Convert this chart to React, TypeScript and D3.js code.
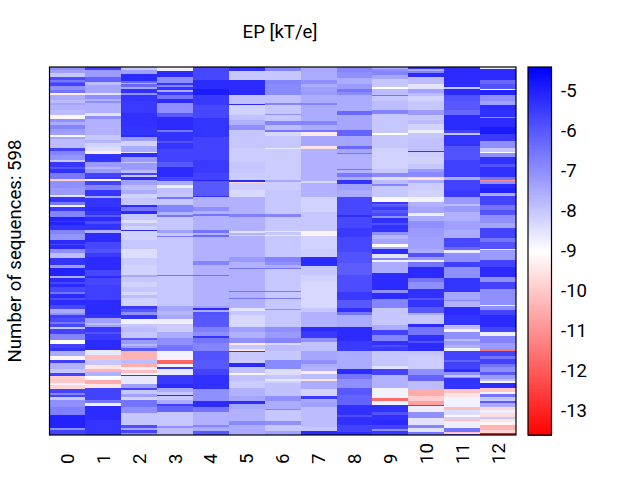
import React from 'react';
import * as d3 from 'd3';

// each column: runs of [last row (exclusive), EP value] top to bottom
const col0 = [[5,-7],[10,-7.3],[16,-8],[21,-5.8],[24,-6.6],[26,-6],[31,-5.6],[37,-7],[42,-6.5],[46,-9.3],[54,-7.5],[58,-7.8],[62,-7.4],[70,-7.6],[78,-7.8],[85,-9.2],[90,-7],[94,-7.5],[100,-6.8],[105,-7.2],[110,-7.3],[113,-8.9],[117,-7.4],[121,-7.8],[132,-7.8],[136,-5.6],[143,-6.8],[151,-7.1],[155,-8],[162,-5.4],[165,-5.9],[173,-5.3],[182,-6.6],[185,-9.8],[197,-7],[208,-7.2],[212,-8.5],[219,-5.35],[225,-6.6],[227,-8.8],[234,-5.45],[243,-6.8],[250,-5.05],[252,-5.5],[256,-5.05],[265,-5.35],[272,-6.8],[281,-7.1],[287,-5.2],[290,-5.7],[295,-5.2],[303,-7],[310,-7.8],[322,-5.35],[327,-7.2],[339,-5.05],[343,-7.5],[350,-5.2],[353,-5.7],[357,-5.2],[365,-5.7],[369,-6.5],[375,-5.2],[378,-5.8],[387,-5.2],[393,-5.7],[399,-7.5],[403,-7],[408,-5.55],[414,-5.8],[418,-6.5],[422,-5.7],[426,-8],[434,-5.6],[444,-6.8],[450,-9],[456,-5.6],[461,-5.35],[470,-7.5],[476,-9.2],[481,-5.55],[490,-7.6],[498,-8],[502,-5.6],[507,-9.9],[513,-10],[516,-8.8],[523,-9.8],[530,-5.6],[533,-6.8],[537,-5.6],[541,-8],[552,-7],[566,-6.7],[586,-5.05],[590,-7],[598,-5.6]];
const col1 = [[5,-5.6],[16,-7.2],[25,-6.2],[29,-7.8],[43,-7.4],[46,-8.5],[52,-7],[56,-7.6],[59,-7],[75,-7.6],[80,-8.5],[85,-7],[110,-7.6],[118,-8],[124,-7.7],[130,-8.2],[136,-8.4],[141,-9.3],[155,-5.35],[162,-7.2],[166,-7.7],[173,-7.2],[178,-5.6],[182,-5.45],[185,-8.9],[192,-5.6],[200,-6.8],[209,-5.35],[213,-7.4],[227,-5.35],[234,-5.2],[240,-5.35],[243,-6],[250,-5.2],[255,-5.8],[265,-5.35],[270,-7.6],[284,-5.2],[295,-5.7],[303,-5.9],[308,-5.45],[330,-5.2],[340,-5.7],[343,-5.2],[354,-5.7],[379,-5.55],[403,-5.2],[408,-5.35],[416,-7.3],[419,-7.8],[422,-7.3],[430,-5.45],[434,-5.9],[444,-5.45],[460,-5.2],[468,-8.6],[476,-10.2],[484,-8],[491,-9.5],[495,-10.4],[502,-7.6],[509,-9],[515,-10.5],[522,-9.5],[541,-5.6],[546,-6.5],[551,-8.7],[574,-5.2],[598,-5.35]];
const col2 = [[5,-8],[11,-7.3],[22,-5.2],[26,-6.3],[28,-7.6],[32,-6.3],[35,-7.4],[43,-5.3],[46,-7],[56,-5.35],[75,-5.45],[97,-5.3],[110,-5.35],[114,-5.2],[121,-7.2],[129,-8.2],[138,-7.5],[140,-8.5],[146,-5.2],[154,-7.2],[156,-8],[167,-7.2],[172,-7.8],[176,-5.6],[178,-8],[184,-5.2],[192,-7.3],[200,-7.8],[206,-7.5],[213,-8.2],[225,-8],[228,-5.2],[234,-6.5],[239,-5.2],[249,-8],[254,-8.4],[259,-7.9],[265,-8.2],[267,-5.2],[281,-8.2],[295,-8],[310,-8.4],[322,-8.1],[338,-8.2],[342,-7.4],[349,-8],[357,-8.2],[366,-8],[370,-8.3],[376,-7.8],[388,-8.2],[394,-5.45],[398,-6],[403,-7],[409,-5.35],[417,-8.8],[422,-8],[430,-7.8],[441,-8],[444,-6],[450,-7.2],[453,-7.7],[457,-7.2],[461,-6],[476,-10.4],[481,-7.8],[487,-10.5],[493,-8.7],[498,-10.2],[501,-8.8],[502,-5.35],[515,-8.6],[522,-7.3],[525,-5.6],[532,-8],[536,-7.3],[541,-8.2],[552,-6.5],[562,-7],[582,-8],[587,-5.8],[590,-7.4],[594,-5.6],[598,-7]];
const col3 = [[6,-8.7],[17,-5.2],[26,-7],[30,-5.35],[32,-6.8],[37,-5.35],[40,-7.5],[46,-5.45],[52,-6.5],[58,-5.2],[75,-7],[82,-6],[102,-5.2],[106,-6.5],[120,-5.35],[124,-5.9],[134,-5.35],[154,-5.6],[162,-6],[178,-5.2],[186,-5.6],[192,-7.5],[197,-8.7],[205,-7.9],[212,-8],[215,-6.5],[225,-8],[236,-6.8],[240,-7.6],[243,-6.5],[265,-8],[269,-7.3],[274,-8],[277,-6.6],[315,-8],[316,-6.5],[338,-8],[339,-6.5],[388,-8],[397,-7.4],[403,-7.7],[409,-7.4],[417,-8.7],[430,-8.1],[441,-7.5],[452,-7],[461,-6.5],[476,-8.8],[482,-11.8],[488,-8.8],[490,-5.45],[501,-8.6],[515,-5.45],[522,-5.2],[528,-7.5],[533,-8],[535,-5.2],[541,-8],[547,-7.5],[551,-5.6],[561,-6.2],[583,-8],[586,-7],[598,-7.8]];
const col4 = [[21,-5.7],[35,-5.2],[46,-4.9],[62,-5.45],[83,-5.7],[113,-5.35],[151,-5.6],[173,-5.45],[184,-5.6],[186,-5],[200,-6],[210,-6],[212,-5.35],[227,-7.6],[234,-7],[239,-7.6],[242,-6.5],[265,-7.6],[269,-6.5],[273,-7.6],[277,-6.3],[315,-7.6],[321,-6.8],[338,-7.6],[339,-6.4],[388,-7.6],[392,-7.3],[395,-5.2],[398,-7.5],[403,-5.9],[422,-6],[430,-6.7],[437,-7],[441,-5.35],[449,-6.5],[461,-6.8],[476,-5.9],[490,-6],[501,-5.6],[523,-5.3],[542,-7],[552,-5.2],[560,-6.5],[582,-7.6],[585,-6.8],[592,-7.5],[598,-6]];
const col5 = [[7,-5.35],[21,-8],[31,-5.2],[46,-5.2],[60,-7.9],[62,-5.2],[78,-8.2],[86,-7.9],[94,-7.6],[102,-7],[132,-8],[154,-8.1],[173,-8],[184,-8.1],[187,-5.2],[189,-9.6],[200,-8.1],[211,-8.3],[239,-7.6],[243,-6.7],[267,-7.6],[269,-8.5],[273,-7.6],[275,-8.3],[308,-7.6],[317,-7.2],[326,-7.6],[328,-6.5],[364,-7.6],[366,-6.5],[376,-7.6],[377,-6.5],[392,-7.6],[397,-8.5],[403,-8],[422,-8.3],[430,-7.3],[441,-7.6],[448,-7],[452,-9.4],[458,-8],[461,-9.5],[463,-5.35],[476,-8],[481,-8.1],[488,-5.2],[497,-7.9],[501,-9.2],[510,-7.9],[522,-8.1],[535,-7.6],[542,-7.4],[547,-5.2],[556,-7.4],[576,-7.6],[582,-6.9],[598,-7.5]];
const col6 = [[7,-6.8],[21,-8],[28,-6.8],[46,-6.9],[59,-7.9],[62,-6.8],[76,-8],[78,-7],[87,-8],[94,-6.8],[102,-7.8],[105,-6.5],[112,-8.3],[131,-8],[134,-8.6],[184,-8.1],[187,-7.4],[200,-8.1],[239,-8],[243,-6.8],[267,-8],[268,-8.6],[273,-8],[275,-8.6],[309,-8],[317,-6.8],[321,-7],[326,-7.5],[328,-6.5],[364,-8],[366,-6.6],[376,-8],[377,-6.6],[393,-8],[395,-7],[422,-8],[430,-7],[441,-7.2],[448,-6.8],[452,-8.3],[461,-7.8],[476,-8],[491,-6.9],[501,-8.4],[507,-8],[510,-8.6],[513,-8.2],[535,-7.9],[542,-7],[556,-7.5],[557,-6.8],[576,-8],[582,-7],[591,-8],[598,-7.3]];
const col7 = [[21,-7.5],[28,-7],[32,-7.5],[40,-7.3],[46,-7.2],[59,-7.5],[61,-6.8],[87,-7.5],[94,-6.8],[102,-7.5],[105,-6.5],[112,-9.4],[129,-7.4],[134,-9.5],[185,-7.6],[189,-8.3],[200,-7.6],[211,-7.6],[235,-8.2],[242,-8],[267,-8],[274,-9.2],[296,-8.2],[309,-8.1],[323,-5.2],[338,-8],[349,-8.2],[392,-8.3],[398,-8],[403,-7.6],[422,-7.6],[429,-5.2],[441,-5.45],[447,-7],[461,-7.9],[476,-7.4],[482,-7],[488,-7.5],[494,-7.6],[499,-9.4],[507,-7.8],[510,-9.5],[523,-7.5],[534,-8.2],[540,-5.45],[544,-7.5],[552,-7.3],[585,-7.8],[592,-8],[598,-5.2]];
const col8 = [[8,-6.8],[18,-7],[28,-7.5],[35,-7.2],[40,-6.5],[46,-6.9],[71,-7.5],[78,-6.3],[103,-7.4],[112,-6.2],[129,-7.4],[134,-6.3],[139,-7.4],[141,-6.5],[165,-7.6],[167,-6.5],[172,-7.6],[178,-6.6],[184,-7.5],[190,-5.35],[200,-7.3],[211,-7.5],[240,-5.7],[243,-5.3],[262,-5.7],[276,-5.45],[300,-5.7],[319,-5.9],[338,-6.1],[365,-5.8],[379,-5.45],[392,-6],[398,-5.3],[403,-6.5],[422,-7.5],[446,-5.2],[461,-5.45],[491,-7.5],[499,-5.2],[507,-6.5],[522,-7],[533,-6],[549,-6.2],[565,-5.3],[568,-5.8],[582,-5.3],[593,-5.6],[598,-5.2]];
const col9 = [[3,-7.5],[7,-7],[13,-6.8],[20,-7.4],[33,-8],[36,-9],[46,-7.8],[47,-6.5],[56,-8],[70,-7.8],[76,-6.8],[107,-8],[110,-9],[132,-8],[165,-8.2],[172,-8],[178,-6.9],[183,-8.4],[190,-7.8],[193,-6.8],[200,-8],[211,-8],[219,-8.9],[222,-5.4],[225,-6.2],[227,-5.9],[233,-5.5],[237,-6],[242,-5.7],[246,-7],[254,-5.3],[257,-5.9],[262,-5.3],[268,-5.35],[273,-7],[280,-7.7],[287,-7.4],[292,-9],[296,-7.5],[304,-5.2],[310,-8.5],[313,-6.8],[317,-8.8],[334,-7.5],[348,-5.2],[362,-5.2],[368,-7],[377,-5.2],[391,-6.8],[403,-8],[419,-8],[427,-7.5],[436,-5.6],[446,-6.8],[452,-5.3],[455,-5.8],[461,-5.45],[486,-8],[491,-8.5],[501,-5.6],[522,-7.6],[538,-8.8],[542,-11.7],[550,-8.8],[560,-5.3],[565,-5.9],[574,-5.3],[582,-5.2],[588,-5.6],[592,-7],[598,-5.45]];
const col10 = [[3,-5.35],[7,-7.5],[10,-6.8],[17,-5.2],[27,-7.8],[36,-8.5],[43,-7.3],[47,-7.8],[56,-8.2],[70,-8],[78,-7.2],[86,-8],[93,-7.8],[103,-8.2],[107,-8.7],[116,-8],[136,-7.9],[138,-5.35],[146,-8.1],[157,-8.2],[166,-8],[171,-7.2],[178,-6.9],[184,-9.6],[189,-7.5],[200,-8.1],[211,-8.2],[219,-8.8],[227,-7.6],[238,-7.4],[242,-8.7],[251,-7.5],[262,-7],[276,-7.2],[295,-7.3],[303,-7.5],[309,-5.9],[314,-7.2],[317,-8.7],[325,-6.5],[343,-5.2],[350,-6.5],[361,-7],[375,-5.3],[378,-5.9],[390,-5.35],[400,-6],[403,-7.5],[418,-8],[423,-5.2],[436,-6.5],[446,-5.3],[449,-5.9],[461,-5.2],[470,-8],[491,-8.1],[501,-7],[511,-6.2],[523,-7.8],[534,-10.5],[542,-9.9],[549,-10.7],[551,-13],[560,-8.7],[571,-7],[582,-8.5],[586,-6.8],[593,-8.5],[598,-6.5]];
const col11 = [[32,-5.2],[36,-8],[46,-5.2],[56,-5.9],[70,-6],[78,-6.3],[102,-5.2],[107,-5.6],[111,-8],[129,-5.35],[151,-5.9],[178,-5.55],[183,-7.5],[200,-5.6],[211,-5.45],[222,-7.2],[226,-7.8],[235,-7.2],[251,-7.6],[265,-7.3],[278,-7.5],[292,-5.7],[297,-6.3],[303,-8.6],[317,-7],[325,-5.55],[343,-7],[365,-5.35],[378,-7.4],[381,-6.8],[390,-7.6],[403,-5.2],[419,-5.35],[425,-7.8],[430,-8.8],[442,-7],[445,-7.8],[452,-7.2],[457,-7.6],[461,-8.8],[476,-5.6],[480,-6.2],[490,-5.6],[495,-5.2],[500,-7],[503,-8],[506,-7],[523,-5.35],[530,-10.1],[537,-9.5],[552,-8.8],[557,-10.2],[565,-8.4],[568,-8.9],[574,-8.2],[576,-10.3],[587,-8.7],[593,-6.5],[596,-10],[598,-6]];
const col12 = [[3,-8.7],[21,-5.2],[28,-6.3],[35,-5.9],[37,-9],[46,-5.05],[56,-7],[62,-7.3],[70,-5.2],[81,-5.3],[83,-7],[97,-5.2],[109,-4.9],[121,-5.45],[131,-7],[138,-8],[140,-8.9],[146,-7],[158,-5.3],[162,-5.9],[178,-5.3],[184,-6.5],[186,-11],[190,-7],[197,-5.2],[205,-5.05],[209,-7.5],[224,-5.6],[232,-6.5],[241,-5.9],[254,-7],[262,-7.4],[278,-5.6],[285,-6.5],[295,-5.9],[297,-8.7],[314,-7.2],[325,-5.6],[341,-5.2],[350,-7],[360,-5.6],[386,-7],[388,-8.7],[395,-7],[403,-5.6],[414,-5.2],[422,-5.2],[430,-5.6],[437,-8.7],[449,-6.8],[459,-7.2],[461,-11.5],[470,-5.6],[474,-6.5],[482,-5.6],[488,-6.5],[495,-7],[500,-6],[507,-7.2],[510,-7.8],[513,-8.8],[522,-5.2],[528,-10],[532,-8.8],[537,-6.5],[542,-8],[546,-6],[552,-7.5],[557,-9.7],[562,-8.7],[568,-9.6],[572,-8],[577,-9.5],[582,-9.2],[590,-10.4],[595,-9.8],[598,-13.3]];

const columns = [col0, col1, col2, col3, col4, col5, col6, col7, col8, col9, col10, col11, col12];
const colLabels = ['0', '1', '2', '3', '4', '5', '6', '7', '8', '9', '10', '11', '12'];
const cbarTicks = [-5, -6, -7, -8, -9, -10, -11, -12, -13];
const nRows = 598;
const vmin = -13.6;
const vmax = -4.42;

const x = d3.scaleBand().domain(colLabels).range([49.5, 516]);
const y = d3.scaleLinear().domain([0, nRows]).range([67, 435]);
const cbarY = d3.scaleLinear().domain([vmax, vmin]).range([67, 435]);
const color = d3.scaleLinear<string>().domain([vmin, (vmin + vmax) / 2, vmax]).range(['#ff0000', '#ffffff', '#0000ff']);
const cbarSteps = d3.range(256).map(i => vmax + (vmin - vmax) * i / 256);

const font = 'Roboto, sans-serif';
const fontSize = 18.6;

export default function App() {
  return (
    <svg width={640} height={480} style={{ position: 'absolute', left: 0, top: 0, background: '#fff' }} fontFamily={font}>
      <text x={280} y={38} textAnchor="middle" fontSize={fontSize}>EP [kT/e]</text>
      <text transform="translate(20.5,251) rotate(-90)" textAnchor="middle" fontSize={fontSize}>Number of sequences: 598</text>

      <g shapeRendering="crispEdges">
        {columns.map((runs, i) => runs.map((run, j) => {
          const start = j === 0 ? 0 : runs[j - 1][0];
          return (
            <rect key={`${i}-${j}`} x={x(colLabels[i])} width={x.bandwidth()} y={y(start)}
              height={y(run[0]) - y(start)} fill={color(run[1])} />
          );
        }))}
      </g>
      <rect x={49.5} y={67} width={466.5} height={368} fill="none" stroke="#000" strokeWidth={1.2} />

      {colLabels.map(d => (
        <text key={d} transform={`translate(${x(d)! + x.bandwidth() / 2 + 6.5},464) rotate(-90)`} fontSize={fontSize}>{d}</text>
      ))}

      <g shapeRendering="crispEdges">
        {cbarSteps.map((v, i) => (
          <rect key={i} x={528} width={23.5} y={cbarY(v)} height={368 / 256 + 0.5} fill={color(v)} />
        ))}
      </g>
      <rect x={528} y={67} width={23.5} height={368} fill="none" stroke="#000" strokeWidth={1.2} />
      {cbarTicks.map(t => (
        <text key={t} x={561} y={cbarY(t) + 6.5} fontSize={fontSize}>{t}</text>
      ))}
    </svg>
  );
}
